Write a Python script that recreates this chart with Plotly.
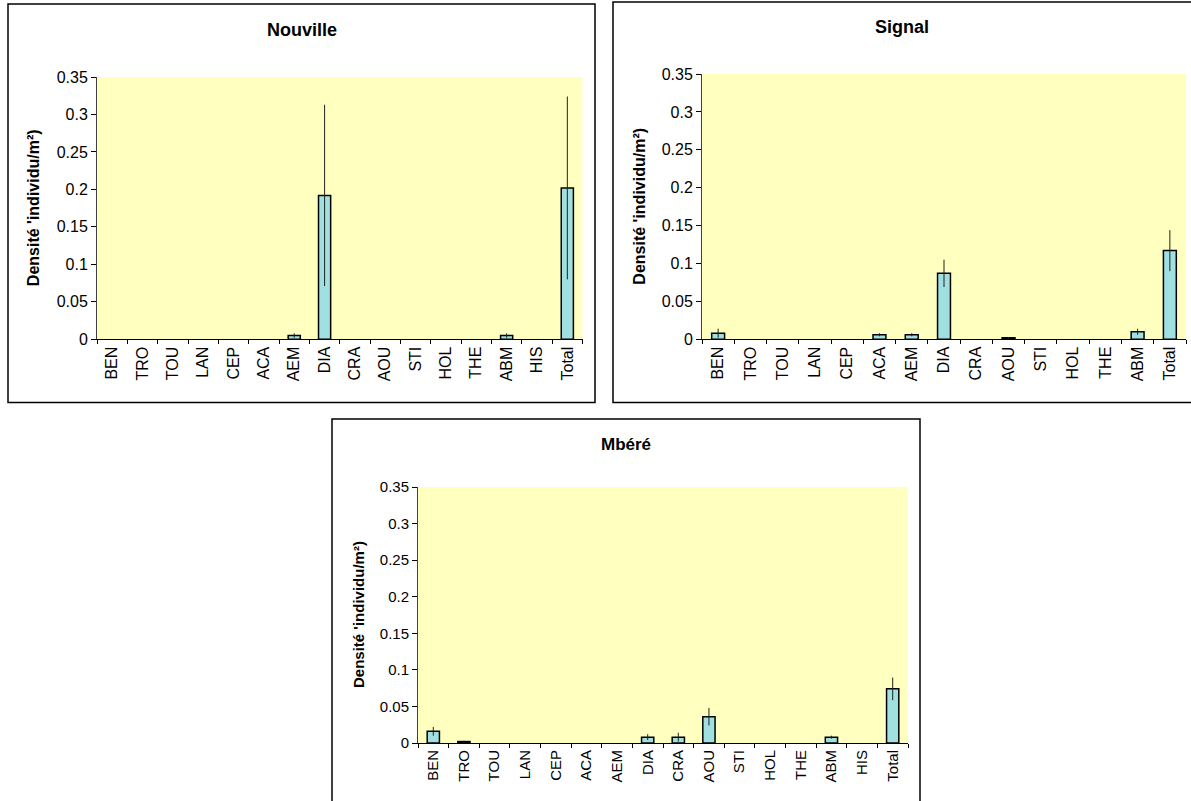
import plotly.graph_objects as go

# Taxon codes
cats_nouville = ["BEN", "TRO", "TOU", "LAN", "CEP", "ACA", "AEM", "DIA", "CRA",
                 "AOU", "STI", "HOL", "THE", "ABM", "HIS", "Total"]
cats_signal = ["BEN", "TRO", "TOU", "LAN", "CEP", "ACA", "AEM", "DIA", "CRA",
               "AOU", "STI", "HOL", "THE", "ABM", "Total"]
cats_mbere = ["BEN", "TRO", "TOU", "LAN", "CEP", "ACA", "AEM", "DIA", "CRA",
              "AOU", "STI", "HOL", "THE", "ABM", "HIS", "Total"]

# Mean density (individuals / m²) and error per taxon
dens_nouville = [0, 0, 0, 0, 0, 0, 0.005, 0.192, 0, 0, 0, 0, 0, 0.005, 0, 0.202]
err_nouville = [0, 0, 0, 0, 0, 0, 0.003, 0.121, 0, 0, 0, 0, 0, 0.003, 0, 0.122]

dens_signal = [0.008, 0, 0, 0, 0, 0.006, 0.006, 0.087, 0, 0.002, 0, 0, 0, 0.010, 0.117]
err_signal = [0.006, 0, 0, 0, 0, 0.002, 0.002, 0.018, 0, 0.001, 0, 0, 0, 0.004, 0.027]

dens_mbere = [0.016, 0.002, 0, 0, 0, 0, 0, 0.008, 0.008, 0.036, 0, 0, 0, 0.008, 0, 0.074]
err_mbere = [0.006, 0.001, 0, 0, 0, 0, 0, 0.004, 0.006, 0.012, 0, 0, 0, 0.002, 0, 0.0155]

y_ticks = [0, 0.05, 0.1, 0.15, 0.2, 0.25, 0.3, 0.35]
y_title = "Densité 'individu/m²)"

W, H = 1191, 801
FONT = "Liberation Sans, Arial, sans-serif"
BAR = "#A0E0E0"
PLOT_BG = "#FFFFC0"


def px(x):
    return x / W


def py(y):
    return 1 - y / H


panels = [
    # name, cats, values, errors, plot box (l, t, r, b), frame (l, t, r, b),
    # title pos, y-title x, tick font, title font, y-title font
    ("Nouville", cats_nouville, dens_nouville, err_nouville,
     (97, 77, 582.5, 339.3), (8, 4, 595, 402.5), (302, 30), 33, 16, 18, 16),
    ("Signal", cats_signal, dens_signal, err_signal,
     (702, 74, 1186, 339.3), (613, 2, 1196, 402.5), (902, 27), 640, 16, 18, 16),
    ("Mbéré", cats_mbere, dens_mbere, err_mbere,
     (418, 487, 908, 743), (332, 419, 920, 806), (626, 444), 358, 15, 17, 15),
]

fig = go.Figure()
shapes = []
annotations = []

for i, (name, cats, vals, errs, box, frame, tpos, ytx, fs, tfs, yfs) in enumerate(panels):
    n = "" if i == 0 else str(i + 1)
    xa, ya = "x" + n, "y" + n
    # no outline on empty categories
    outline = [1.5 if v > 0 else 0 for v in vals]
    fig.add_trace(go.Bar(
        x=cats, y=vals, xaxis=xa, yaxis=ya,
        marker=dict(color=BAR, line=dict(color="#000000", width=outline)),
        error_y=dict(type="data", array=errs, visible=True,
                     color="#222222", thickness=1, width=0),
        showlegend=False,
    ))
    l, t, r, b = box
    axis_x = dict(domain=[px(l), px(r)], anchor=ya, type="category",
                  categoryorder="array", categoryarray=cats, automargin=False,
                  tickson="boundaries", ticks="outside", ticklen=4,
                  tickcolor="#000000", tickwidth=1,
                  showline=True, linecolor="#000000", linewidth=1,
                  showgrid=False, zeroline=False, tickangle=-90,
                  tickfont=dict(family=FONT, size=fs, color="#000000"),
                  fixedrange=True)
    axis_y = dict(domain=[py(b), py(t)], anchor=xa, range=[0, 0.35],
                  automargin=False,
                  tickvals=y_ticks, ticktext=[f"{v:g}" for v in y_ticks],
                  ticks="outside", ticklen=5, tickcolor="#000000", tickwidth=1,
                  showline=True, linecolor="#404040", linewidth=1,
                  showgrid=False, zeroline=False,
                  tickfont=dict(family=FONT, size=fs, color="#000000"),
                  fixedrange=True)
    fig.layout["xaxis" + n] = axis_x
    fig.layout["yaxis" + n] = axis_y

    # plot-area fill
    shapes.append(dict(type="rect", xref="paper", yref="paper", layer="below",
                       x0=px(l), x1=px(r), y0=py(b), y1=py(t),
                       fillcolor=PLOT_BG, line=dict(width=0)))
    # chart frame
    fl, ft, fr, fb = frame
    shapes.append(dict(type="rect", xref="paper", yref="paper", layer="below",
                       x0=px(fl), x1=px(fr), y0=py(fb), y1=py(ft),
                       fillcolor="rgba(0,0,0,0)",
                       line=dict(color="#000000", width=1.5)))
    annotations.append(dict(text=f"<b>{name}</b>", xref="paper", yref="paper",
                            x=px(tpos[0]), y=py(tpos[1]), showarrow=False,
                            xanchor="center", yanchor="middle",
                            font=dict(family=FONT, size=tfs, color="#000000")))
    annotations.append(dict(text=f"<b>{y_title}</b>", xref="paper", yref="paper",
                            x=px(ytx), y=py((t + b) / 2), showarrow=False,
                            textangle=-90, xanchor="center", yanchor="middle",
                            font=dict(family=FONT, size=yfs, color="#000000")))

fig.update_layout(
    width=W, height=H, autosize=False,
    margin=dict(l=0, r=0, t=0, b=0, autoexpand=False),
    paper_bgcolor="#FFFFFF", plot_bgcolor="rgba(0,0,0,0)",
    bargap=0.6,
    shapes=shapes, annotations=annotations,
)

fig.write_html("out.html", config={"displayModeBar": False})
